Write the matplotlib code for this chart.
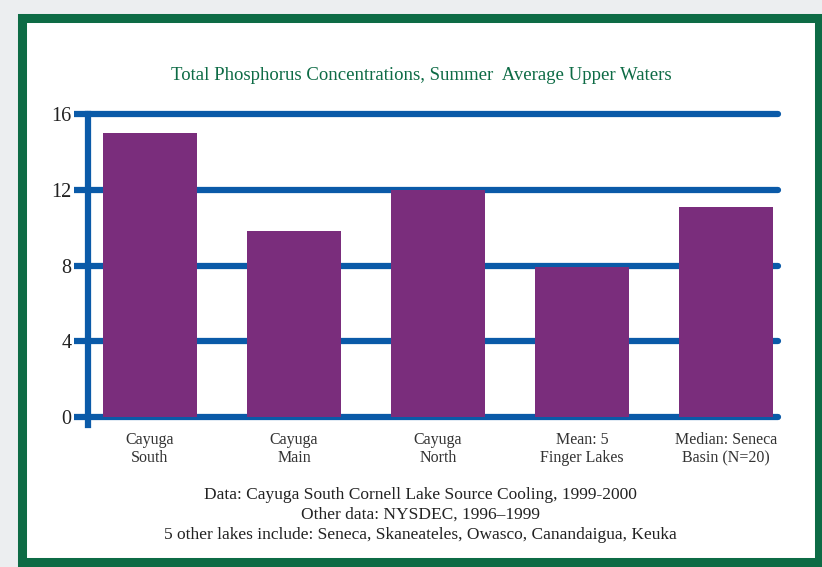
import matplotlib.pyplot as plt
from matplotlib.patches import Rectangle

categories = ['Cayuga\nSouth', 'Cayuga\nMain', 'Cayuga\nNorth', 'Mean: 5\nFinger Lakes', 'Median: Seneca\nBasin (N=20)']
phosphorus = [15.0, 9.8, 12.0, 7.9, 11.1]
yticks = [0, 4, 8, 12, 16]
title = 'Total Phosphorus Concentrations, Summer  Average Upper Waters'
footer = ['Data: Cayuga South Cornell Lake Source Cooling, 1999-2000',
          'Other data: NYSDEC, 1996\u20131999',
          '5 other lakes include: Seneca, Skaneateles, Owasco, Canandaigua, Keuka']

blue = '#0a5aa8'
purple = '#7a2d7c'
green = '#0d6b45'

plt.rcParams['font.family'] = ['Liberation Serif', 'DejaVu Serif']

fig = plt.figure(figsize=(8.22, 5.67), dpi=100, facecolor='#eceef0')
# green frame with white inside
fig.patches.append(Rectangle((21.5 / 822, 1 - 561.5 / 567), 797.5 / 822, 544 / 567,
                             transform=fig.transFigure, facecolor='white',
                             edgecolor=green, linewidth=6.5, zorder=0))

ax = fig.add_axes([88 / 822, 1 - 424.6 / 567, 690 / 822, 310.6 / 567], zorder=2)
ax.set_facecolor('none')
x = list(range(len(categories)))
for yv in yticks:
    ax.axhline(yv, color=blue, linewidth=4.5, zorder=1, solid_capstyle='round', clip_on=False)
ax.bar(x, phosphorus, width=0.65, color=purple, zorder=2)

ax.set_xlim(-0.43, 4.36)
ax.set_ylim(-0.4, 16)
ax.set_yticks(yticks)
ax.set_xticks(x)
ax.set_xticklabels(categories, fontsize=11.5, color='#333333', linespacing=1.2)
ax.tick_params(axis='x', length=0, pad=5)
ax.tick_params(axis='y', length=10, width=4.5, color=blue, labelsize=14.5, pad=2, labelcolor='#222222')
for s in ['top', 'right', 'bottom']:
    ax.spines[s].set_visible(False)
ax.spines['left'].set_color(blue)
ax.spines['left'].set_linewidth(4.5)

fig.text(421 / 822, 1 - 75 / 567, title, ha='center', va='center', fontsize=13.5, color=green)
for i, line in enumerate(footer):
    fig.text(420 / 822, 1 - (495 + i * 20) / 567, line, ha='center', va='center',
             fontsize=12.5, color='#222222')

fig.savefig('out.png', dpi=100, facecolor=fig.get_facecolor())
